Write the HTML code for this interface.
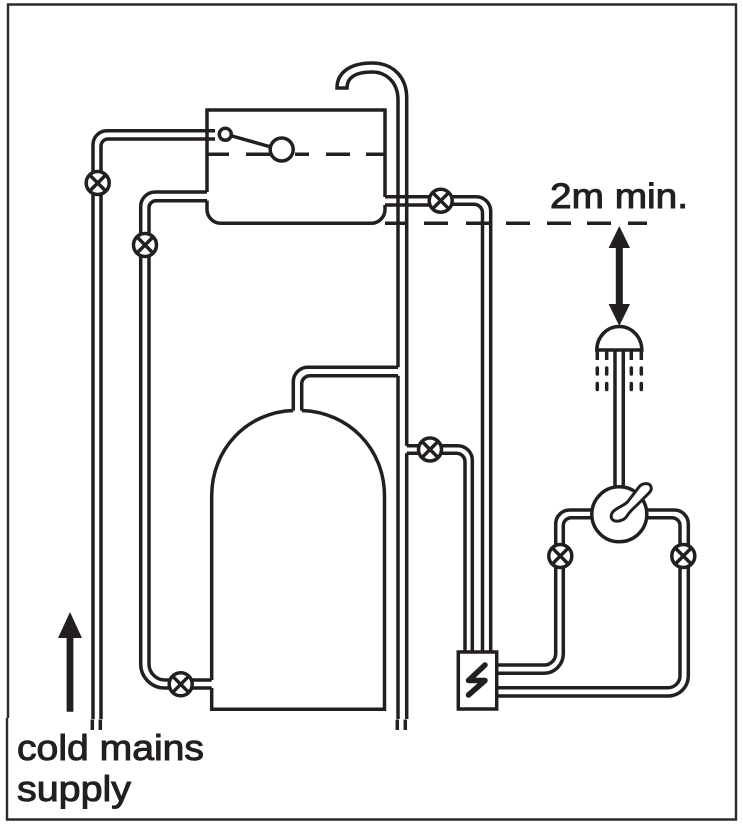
<!DOCTYPE html>
<html>
<head>
<meta charset="utf-8">
<style>
html,body{margin:0;padding:0;background:#fff;width:743px;height:827px;overflow:hidden}
svg{display:block}
text{font-family:"Liberation Sans",sans-serif;fill:#231f20;stroke:#231f20;stroke-width:1px}
</style>
</head>
<body>
<svg width="743" height="827" viewBox="0 0 743 827" xmlns="http://www.w3.org/2000/svg">
<rect width="743" height="827" fill="#fff"/>
<!-- frame -->
<g fill="none" stroke="#2b2b2b" stroke-width="2.4">
<path d="M8,718V4.5H736V819.5H7V718"/>
</g>
<g fill="none" stroke="#231f20" stroke-width="3.500" stroke-linecap="butt" stroke-linejoin="miter">
<!-- tank -->
<path d="M385,197V110H207V192"/>
<path d="M207,200.500V209A14,14 0 0 0 221,223.300H371A14,14 0 0 0 385,209V205"/>
<path d="M207,154.300H229M246,154.300H270M295,154.300H309M326,154.300H350M366,154.300H385" />
<path d="M385,223.300H407M424,223.300H448M466,223.300H489M506,223.300H530M547,223.300H571M587,223.300H611M628,223.300H647"/>
<!-- cold main 1 -->
<path d="M215,130.700H107A14,14 0 0 0 93,144.700V719"/>
<path d="M215,139H108A7,7 0 0 0 101,146V719"/>
<path d="M92.300,719.500V730M100.300,719.500V730"/>
<!-- tank to cylinder -->
<path d="M207,192H155A14.500,14.500 0 0 0 140.700,206.500V664A24,24 0 0 0 164.700,688H180"/>
<path d="M207,200.700H156A7,7 0 0 0 149,207.700V664A16,16 0 0 0 165,680H180"/>
<path d="M180,680H211.700M180,688H211.700"/>
<!-- vent main and spout -->
<path d="M398,367.300V100C398,82 386,72 372,72C358,72 347,76 347,88H337C337,72 351,63 372,63C394,63 406.700,78 406.700,98V445.700"/>
<path d="M398,375.700V719M406.700,453.300V719"/>
<path d="M397.300,719.500V730M405.300,719.500V730"/>
<path d="M385,196.700H430M385,205H430"/>
<path d="M450,196.700H476A14.500,14.500 0 0 1 490.700,211.200V652"/>
<path d="M450,204.300H474A8.500,8.500 0 0 1 482.500,212.800V652"/>
<path d="M406.700,445.700H458A14.500,14.500 0 0 1 472.300,460V652"/>
<path d="M406.700,453.300H456.500A8.500,8.500 0 0 1 465,461.800V652"/>
<!-- cylinder -->
<path d="M293.300,410.500V382A14.500,14.500 0 0 1 308,367.300H398"/>
<path d="M301.700,410.500V384A8.300,8.300 0 0 1 310,375.700H398"/>
<path d="M293.300,410.500C247,412 211.700,449 211.700,496V680"/>
<path d="M301.700,410.500C349,412 384.500,449 384.500,496V709.300H211.700V688"/>
<!-- box outlets -->
<path d="M497,665H544A11.500,11.500 0 0 0 555.700,653.500V524A14,14 0 0 1 569.700,510H592"/>
<path d="M497,673.300H544A19.500,19.500 0 0 0 563.300,654V525.700A8,8 0 0 1 571.300,517.700H592"/>
<path d="M497,687.700H668A12,12 0 0 0 680,675.700V525.700A8,8 0 0 0 672,517.700H647"/>
<path d="M497,696H668A20,20 0 0 0 688.300,676V524A14,14 0 0 0 674.300,510H647"/>
<!-- shower pipe -->
<path d="M615,350V487M623.300,350V487"/>
<!-- float -->
<path d="M232,136L271,147"/>
<circle cx="225.300" cy="134.300" r="6" fill="#fff"/>
<circle cx="281.700" cy="149.500" r="11.500" fill="#fff"/>
<!-- mixer -->
<circle cx="619.300" cy="514.300" r="27.500" fill="#fff"/>
<path d="M615,510C620,506 626,505 629,500L639,487C642,483 650,482 651,487C652,490 650,492 648,494L637,505C633,509 630,511 627,516C624,521 615,523 612,519C610,516 612,512 615,510Z" fill="#fff" stroke-width="3"/>
<!-- shower head -->
<path d="M596.800,350A22.500,23.500 0 0 1 641.800,350H596.800Z" fill="#fff"/>
<path d="M597.300,350V360M606.700,350V360M631.300,350V360M641.300,350V360"/>
<!-- box -->
<rect x="458.300" y="652" width="38.400" height="57" fill="#fff"/>
</g>
<path d="M597.300,368V374M606.700,368V374M631.300,368V374M641.300,368V374M597.300,383.500V389.500M606.700,383.500V389.500M631.300,383.500V389.500M641.300,383.500V389.500" stroke="#231f20" stroke-width="3.500" stroke-linecap="round" fill="none"/>
<path d="M485,665L468.500,680.500H485L468.500,695" stroke="#231f20" stroke-width="5.500" stroke-linecap="round" stroke-linejoin="round" fill="none"/>
<!-- valves -->
<g fill="#fff" stroke="#231f20" stroke-width="3.500">
<g transform="translate(97.700,183)"><circle r="11.500"/><path d="M-8,-8L8,8M8,-8L-8,8"/></g>
<g transform="translate(145,245)"><circle r="11.500"/><path d="M-8,-8L8,8M8,-8L-8,8"/></g>
<g transform="translate(440.700,200.700)"><circle r="11.500"/><path d="M-8,-8L8,8M8,-8L-8,8"/></g>
<g transform="translate(430,449.500)"><circle r="11.500"/><path d="M-8,-8L8,8M8,-8L-8,8"/></g>
<g transform="translate(180.700,684.300)"><circle r="11.500"/><path d="M-8,-8L8,8M8,-8L-8,8"/></g>
<g transform="translate(560.300,556)"><circle r="11.500"/><path d="M-8,-8L8,8M8,-8L-8,8"/></g>
<g transform="translate(683.300,556)"><circle r="11.500"/><path d="M-8,-8L8,8M8,-8L-8,8"/></g>
</g>
<!-- arrows -->
<path d="M66.600,711.700V638H58L70,612L82,638H73.400V711.700Z" fill="#231f20"/>
<path d="M619.300,226L630,248H622.800V304H630L619.300,326L608.600,304H615.800V248H608.600Z" fill="#231f20"/>
<!-- labels -->
<text x="17" y="760" font-size="36" textLength="187" lengthAdjust="spacingAndGlyphs">cold mains</text>
<text x="17" y="801" font-size="36" textLength="114" lengthAdjust="spacingAndGlyphs">supply</text>
<text x="550" y="208" font-size="35" textLength="138" lengthAdjust="spacingAndGlyphs">2m min.</text>
</svg>
</body>
</html>
